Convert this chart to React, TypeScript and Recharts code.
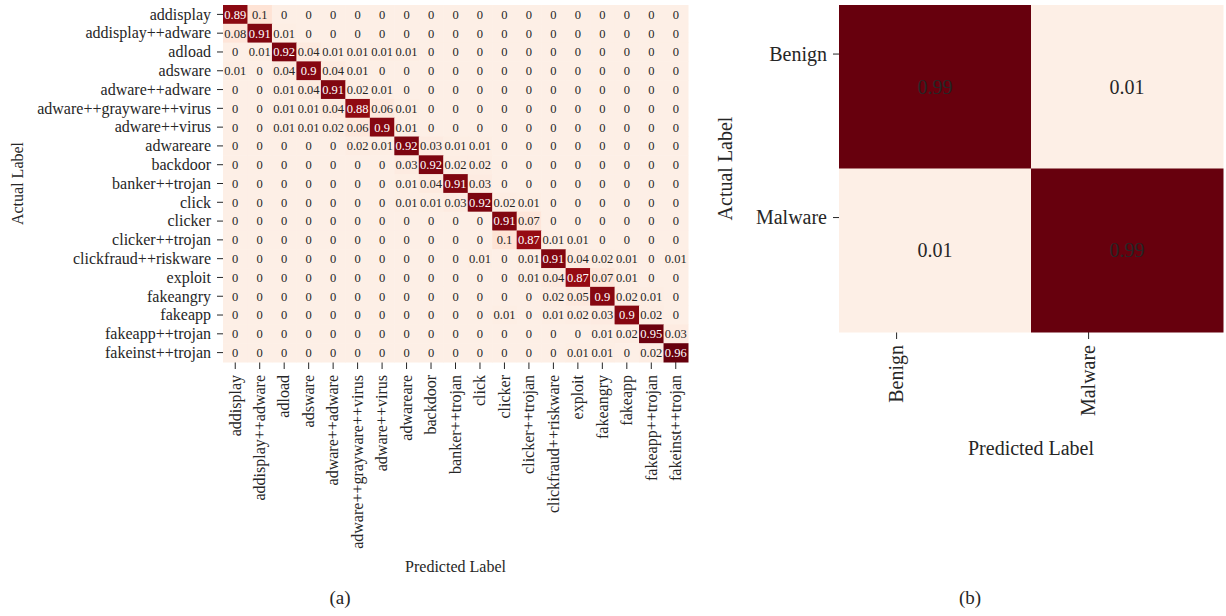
import React from "react";
import { ScatterChart, Scatter, XAxis, YAxis } from "recharts";

// family labels (rows = actual, columns = predicted)
const FAMILIES = [
  "addisplay",
  "addisplay++adware",
  "adload",
  "adsware",
  "adware++adware",
  "adware++grayware++virus",
  "adware++virus",
  "adwareare",
  "backdoor",
  "banker++trojan",
  "click",
  "clicker",
  "clicker++trojan",
  "clickfraud++riskware",
  "exploit",
  "fakeangry",
  "fakeapp",
  "fakeapp++trojan",
  "fakeinst++trojan",
];

const FAMILY_MATRIX = [
  [0.89, 0.1, 0, 0, 0, 0, 0, 0, 0, 0, 0, 0, 0, 0, 0, 0, 0, 0, 0],
  [0.08, 0.91, 0.01, 0, 0, 0, 0, 0, 0, 0, 0, 0, 0, 0, 0, 0, 0, 0, 0],
  [0, 0.01, 0.92, 0.04, 0.01, 0.01, 0.01, 0.01, 0, 0, 0, 0, 0, 0, 0, 0, 0, 0, 0],
  [0.01, 0, 0.04, 0.9, 0.04, 0.01, 0, 0, 0, 0, 0, 0, 0, 0, 0, 0, 0, 0, 0],
  [0, 0, 0.01, 0.04, 0.91, 0.02, 0.01, 0, 0, 0, 0, 0, 0, 0, 0, 0, 0, 0, 0],
  [0, 0, 0.01, 0.01, 0.04, 0.88, 0.06, 0.01, 0, 0, 0, 0, 0, 0, 0, 0, 0, 0, 0],
  [0, 0, 0.01, 0.01, 0.02, 0.06, 0.9, 0.01, 0, 0, 0, 0, 0, 0, 0, 0, 0, 0, 0],
  [0, 0, 0, 0, 0, 0.02, 0.01, 0.92, 0.03, 0.01, 0.01, 0, 0, 0, 0, 0, 0, 0, 0],
  [0, 0, 0, 0, 0, 0, 0, 0.03, 0.92, 0.02, 0.02, 0, 0, 0, 0, 0, 0, 0, 0],
  [0, 0, 0, 0, 0, 0, 0, 0.01, 0.04, 0.91, 0.03, 0, 0, 0, 0, 0, 0, 0, 0],
  [0, 0, 0, 0, 0, 0, 0, 0.01, 0.01, 0.03, 0.92, 0.02, 0.01, 0, 0, 0, 0, 0, 0],
  [0, 0, 0, 0, 0, 0, 0, 0, 0, 0, 0, 0.91, 0.07, 0, 0, 0, 0, 0, 0],
  [0, 0, 0, 0, 0, 0, 0, 0, 0, 0, 0, 0.1, 0.87, 0.01, 0.01, 0, 0, 0, 0],
  [0, 0, 0, 0, 0, 0, 0, 0, 0, 0, 0.01, 0, 0.01, 0.91, 0.04, 0.02, 0.01, 0, 0.01],
  [0, 0, 0, 0, 0, 0, 0, 0, 0, 0, 0, 0, 0.01, 0.04, 0.87, 0.07, 0.01, 0, 0],
  [0, 0, 0, 0, 0, 0, 0, 0, 0, 0, 0, 0, 0, 0.02, 0.05, 0.9, 0.02, 0.01, 0],
  [0, 0, 0, 0, 0, 0, 0, 0, 0, 0, 0, 0.01, 0, 0.01, 0.02, 0.03, 0.9, 0.02, 0],
  [0, 0, 0, 0, 0, 0, 0, 0, 0, 0, 0, 0, 0, 0, 0, 0.01, 0.02, 0.95, 0.03],
  [0, 0, 0, 0, 0, 0, 0, 0, 0, 0, 0, 0, 0, 0, 0.01, 0.01, 0, 0.02, 0.96],
];

const BINARY_LABELS = ["Benign", "Malware"];
const BINARY_MATRIX = [
  [0.99, 0.01],
  [0.01, 0.99],
];
// tick marks in (b) sit a bit before the cell centres
const BINARY_TICKS = [0.3, 1.3];

const FONT = "'Liberation Serif', 'DejaVu Serif', serif";
const INK = "#262626";

// matplotlib "Reds"
const REDS = ["#fdefe6", "#fee0d2", "#fcbba1", "#fc9272", "#fb6a4a", "#ef3b2c", "#cb181d", "#a50f15", "#67000d"];

function hex(c: string) {
  return [1, 3, 5].map((i) => parseInt(c.slice(i, i + 2), 16));
}

function reds(t: number) {
  const v = Math.max(0, Math.min(1, t)) * (REDS.length - 1);
  const i = Math.min(Math.floor(v), REDS.length - 2);
  const f = v - i;
  const a = hex(REDS[i]);
  const b = hex(REDS[i + 1]);
  const m = a.map((x, k) => Math.round(x + (b[k] - x) * f));
  return `rgb(${m[0]},${m[1]},${m[2]})`;
}

function toCells(matrix: number[][]) {
  const out: { x: number; y: number; v: number }[] = [];
  matrix.forEach((row, i) => row.forEach((v, j) => out.push({ x: j + 0.5, y: i + 0.5, v })));
  return out;
}

function RotatedTick({ x, y, payload, labels, fontSize }: any) {
  const idx = Math.floor(payload.value);
  return (
    <g transform={`translate(${x},${y})`}>
      <text transform="rotate(-90)" textAnchor="end" dy="0.33em" fontSize={fontSize} fontFamily={FONT} fill={INK}>
        {labels[idx]}
      </text>
    </g>
  );
}

function SideTick({ x, y, payload, labels, fontSize }: any) {
  const idx = Math.floor(payload.value);
  return (
    <text x={x} y={y} textAnchor="end" dy="0.33em" fontSize={fontSize} fontFamily={FONT} fill={INK}>
      {labels[idx]}
    </text>
  );
}

function Heatmap({
  matrix,
  labels,
  ticks,
  width,
  height,
  margin,
  yAxisWidth,
  xAxisHeight,
  tickFont,
  cellFont,
  titleFont,
  vmin,
  vmax,
  lightText,
  xTitleOffset,
  yTitleOffset,
}: any) {
  const n = labels.length;
  const plotW = width - margin.left - margin.right - yAxisWidth;
  const plotH = height - margin.top - margin.bottom - xAxisHeight;
  const cw = plotW / n;
  const ch = plotH / n;
  const data = toCells(matrix);

  const shape = (p: any) => {
    const v = p.payload.v;
    const t = (v - vmin) / (vmax - vmin);
    const txt = lightText && t > 0.55 ? "#ffffff" : INK;
    return (
      <g>
        <rect x={p.cx - cw / 2} y={p.cy - ch / 2} width={cw + 0.5} height={ch + 0.5} fill={reds(t)} />
        <text x={p.cx} y={p.cy} dy="0.35em" textAnchor="middle" fontSize={cellFont} fontFamily={FONT} fill={txt}>
          {String(v)}
        </text>
      </g>
    );
  };

  return (
    <ScatterChart width={width} height={height} margin={margin}>
      <XAxis
        type="number"
        dataKey="x"
        domain={[0, n]}
        ticks={ticks}
        interval={0}
        height={xAxisHeight}
        axisLine={false}
        tickLine={{ stroke: INK }}
        tickSize={7}
        tickMargin={6}
        tick={<RotatedTick labels={labels} fontSize={tickFont} />}
        label={{ value: "Predicted Label", position: "insideBottom", offset: xTitleOffset, fontSize: titleFont, fontFamily: FONT, fill: INK }}
      />
      <YAxis
        type="number"
        dataKey="y"
        domain={[0, n]}
        reversed
        ticks={ticks}
        interval={0}
        width={yAxisWidth}
        axisLine={false}
        tickLine={{ stroke: INK }}
        tickSize={6}
        tickMargin={6}
        tick={<SideTick labels={labels} fontSize={tickFont} />}
        label={{
          value: "Actual Label",
          angle: -90,
          position: "insideLeft",
          offset: yTitleOffset,
          fontSize: titleFont,
          fontFamily: FONT,
          fill: INK,
          style: { textAnchor: "middle" },
        }}
      />
      <Scatter data={data} shape={shape} isAnimationActive={false} />
    </ScatterChart>
  );
}

export default function App() {
  const familyTicks = FAMILIES.map((_, i) => i + 0.5);
  return (
    <div style={{ position: "relative", width: 1226, height: 616, background: "#fff", overflow: "hidden" }}>
      <style>{`body{margin:0}`}</style>
      <div style={{ position: "absolute", left: 0, top: 0 }}>
        <Heatmap
          matrix={FAMILY_MATRIX}
          labels={FAMILIES}
          ticks={familyTicks}
          width={700}
          height={580}
          margin={{ top: 5, right: 12, bottom: 0, left: 0 }}
          yAxisWidth={223}
          xAxisHeight={218}
          tickFont={16}
          cellFont={12.5}
          titleFont={16}
          vmin={0}
          vmax={0.96}
          lightText
          xTitleOffset={8}
          yTitleOffset={17}
        />
      </div>
      <div style={{ position: "absolute", left: 700, top: 0 }}>
        <Heatmap
          matrix={BINARY_MATRIX}
          labels={BINARY_LABELS}
          ticks={BINARY_TICKS}
          width={526}
          height={470}
          margin={{ top: 5, right: 3, bottom: 0, left: 0 }}
          yAxisWidth={139}
          xAxisHeight={138}
          tickFont={20}
          cellFont={20}
          titleFont={20}
          vmin={0.01}
          vmax={0.99}
          lightText={false}
          xTitleOffset={15}
          yTitleOffset={25}
        />
      </div>
      <div style={{ position: "absolute", left: 320, top: 587, width: 40, textAlign: "center", fontFamily: FONT, fontSize: 19, color: INK }}>
        (a)
      </div>
      <div style={{ position: "absolute", left: 950, top: 587, width: 40, textAlign: "center", fontFamily: FONT, fontSize: 19, color: INK }}>
        (b)
      </div>
    </div>
  );
}
